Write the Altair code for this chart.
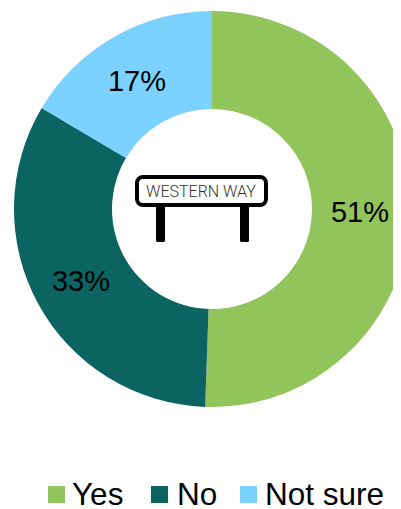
import altair as alt
import pandas as pd

categories = ["Yes", "No", "Not sure"]
values = [50.6, 33, 16.5]
labels = ["51%", "33%", "17%"]
colors = ["#92C45C", "#0B6362", "#7CD2FF"]
label_x = [360, 81, 137]
label_y = [213, 282, 82]
sign_text = ["WESTERN WAY"]
post_x = [160.5, 244.5]
leg_x = [48, 151, 240]
leg_text_x = [72, 177, 265]

W, H = 385, 508
xs = alt.Scale(domain=[0, W], range=[0, W])
ys = alt.Scale(domain=[0, H], range=[0, H])
color = alt.Color("c:N", scale=alt.Scale(domain=categories, range=colors), legend=None)
X = alt.X("x:Q", scale=xs, axis=None)
Y = alt.Y("y:Q", scale=ys, axis=None)

df = pd.DataFrame({"c": categories, "v": values, "o": [0, 1, 2]})
donut = alt.Chart(df).mark_arc(innerRadius=100, outerRadius=198).encode(
    theta=alt.Theta("v:Q", stack=True, scale=alt.Scale(domain=[0, sum(values)], range=[0, 6.28319])),
    order=alt.Order("o:Q"),
    color=color,
    x=alt.value(204), y=alt.value(201),
)

ldf = pd.DataFrame({"t": labels, "x": [a - 8 for a in label_x], "y": [a - 8 for a in label_y]})
lab = alt.Chart(ldf).mark_text(font="Liberation Sans", fontSize=29, color="#000").encode(x=X, y=Y, text="t:N")

posts = alt.Chart(pd.DataFrame({"x": [a - 8 - 4.5 for a in post_x], "x2": [a - 8 + 4.5 for a in post_x],
                                "y": [196] * 2, "y2": [234] * 2})).mark_rect(
    color="#000", cornerRadius=1.5).encode(x=X, x2="x2:Q", y=Y, y2="y2:Q")
sign = alt.Chart(pd.DataFrame({"x": [129], "x2": [258], "y": [169], "y2": [197]})).mark_rect(
    fill="#fff", stroke="#000", strokeWidth=4, cornerRadius=6).encode(x=X, x2="x2:Q", y=Y, y2="y2:Q")
sign_t = alt.Chart(pd.DataFrame({"t": sign_text, "x": [193], "y": [184]})).mark_text(
    font="Roboto", fontSize=16, fontWeight=300, color="#333").encode(x=X, y=Y, text="t:N")

sq = alt.Chart(pd.DataFrame({"x": [a - 8 for a in leg_x], "x2": [a + 9 for a in leg_x],
                             "y": [478] * 3, "y2": [495] * 3, "c": categories})).mark_rect().encode(
    x=X, x2="x2:Q", y=Y, y2="y2:Q", color=color)
lt = alt.Chart(pd.DataFrame({"x": [a - 8 for a in leg_text_x], "y": [488] * 3, "t": categories})).mark_text(
    font="Liberation Sans", fontSize=31.5, align="left", color="#000").encode(x=X, y=Y, text="t:N")

chart = alt.layer(donut, lab, posts, sign, sign_t, sq, lt).properties(
    width=W, height=H, padding=0, background="#ffffff", autosize=alt.AutoSizeParams(type="none")
).configure_view(stroke=None)
chart.save("out.html", embed_options={"renderer": "svg", "actions": False})
